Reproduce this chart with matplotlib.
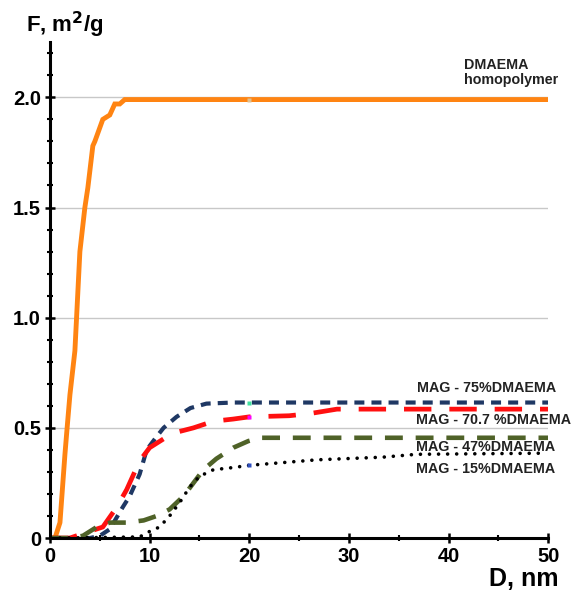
import numpy as np
import matplotlib
matplotlib.use("Agg")
from matplotlib import pyplot as plt
from matplotlib.ticker import MultipleLocator

plt.rcParams['font.family'] = ['Liberation Sans', 'DejaVu Sans']

# curves: D, nm -> F, m2/g
homo_d = [0, 0.5, 1, 1.5, 1.7, 2, 2.2, 2.5, 3, 3.5, 3.8, 4.3, 4.5, 5.3, 6, 6.5, 7, 7.5, 8, 20, 50]
homo_f = [0, 0, 0.07, 0.38, 0.49, 0.65, 0.73, 0.85, 1.3, 1.5, 1.59, 1.78, 1.8, 1.9, 1.92, 1.97, 1.97, 1.99, 1.99, 1.99, 1.99]

mag75_d = [0, 4, 5, 6, 7.3, 8, 9, 9.7, 10.7, 11.4, 12.7, 14.1, 15.7, 18.4, 20, 50]
mag75_f = [0, 0, 0.01, 0.04, 0.14, 0.19, 0.29, 0.40, 0.46, 0.50, 0.55, 0.59, 0.61, 0.615, 0.615, 0.615]

mag707_d = [0, 2, 3.3, 5.3, 6.7, 7.7, 8.4, 9, 10, 11.4, 12.7, 14.4, 16.4, 18.4, 20, 24, 26.1, 28.8, 50]
mag707_f = [0, 0, 0.02, 0.05, 0.14, 0.22, 0.29, 0.35, 0.41, 0.45, 0.48, 0.50, 0.53, 0.54, 0.55, 0.555, 0.565, 0.585, 0.585]

mag47_d = [0, 2, 3.3, 4.7, 6, 7.7, 9.4, 10.7, 12, 13.4, 14.4, 15.4, 16.7, 18.4, 19.9, 21.1, 50]
mag47_f = [0, 0, 0.01, 0.05, 0.07, 0.07, 0.08, 0.10, 0.13, 0.19, 0.25, 0.31, 0.36, 0.41, 0.44, 0.455, 0.455]

mag15_d = [1, 9, 10, 11, 12, 13, 14, 15, 16.4, 18.4, 20, 26.8, 33.4, 36.8, 49.5]
mag15_f = [0, 0.005, 0.03, 0.05, 0.10, 0.16, 0.23, 0.28, 0.31, 0.32, 0.33, 0.355, 0.367, 0.38, 0.385]

fig = plt.figure(figsize=(5.72, 5.93), dpi=100)
ax = fig.add_axes([0.0874, 0.0927, 0.871, 0.836])

ax.plot(homo_d, homo_f, color='#ff8412', lw=3.5, solid_joinstyle='miter')
ax.plot(mag75_d, mag75_f, color='#1f3864', lw=3.0, dashes=(2.4, 1.7))
ax.plot(mag707_d, mag707_f, color='#ff1010', lw=3.4, dashes=(5.8, 3.8))
ax.plot(mag47_d, mag47_f, color='#4f6228', lw=3.3, dashes=(3.9, 2.8))
ax.plot(mag15_d, mag15_f, color='black', lw=2.6, dashes=(0.01, 2.5), dash_capstyle='round')

# small stray markers at D = 20 nm
ax.plot([20], [1.99], 's', ms=2.5, color='#e0c090', mec='none')
ax.plot([20], [0.615], 's', ms=2.5, color='#40e0a0', mec='none')
ax.plot([20], [0.55], 's', ms=2.5, color='#ff00ff', mec='none')
ax.plot([20], [0.33], 's', ms=2.5, color='#3050c0', mec='none')

ax.set_xlim(0, 50)
ax.set_ylim(0, 2.25)
ax.set_xticks([0, 10, 20, 30, 40, 50])
ax.set_yticks([0, 0.5, 1.0, 1.5, 2.0])
ax.set_yticklabels(['0', '0.5', '1.0', '1.5', '2.0'])
ax.xaxis.set_minor_locator(MultipleLocator(5))
ax.yaxis.set_minor_locator(MultipleLocator(0.1))
ax.tick_params(which='major', direction='inout', length=7, width=1.8, labelsize=14.5, pad=3)
ax.tick_params(which='minor', direction='inout', length=4, width=1.5)
for lab in ax.get_xticklabels() + ax.get_yticklabels():
    lab.set_fontweight('bold')

ax.grid(axis='y', color='#c8c8c8', lw=1)
ax.set_axisbelow(True)
for s in ['top', 'right']:
    ax.spines[s].set_visible(False)
for s in ['left', 'bottom']:
    ax.spines[s].set_linewidth(2.2)

fig.text(0.045, 0.958, 'F, m$^{\\mathbf{2}}$/g', fontsize=16, fontweight='bold', va='center')
fig.text(0.976, 0.024, 'D, nm', fontsize=18, fontweight='bold', ha='right', va='center')

lab_kw = dict(fontsize=10.3, fontweight='bold', color='#222222')
ax.text(41.5, 2.18, 'DMAEMA\nhomopolymer', va='top', linespacing=1.15, **lab_kw)
ax.text(36.85, 0.680, 'MAG - 75%DMAEMA', va='center', **lab_kw)
ax.text(36.75, 0.535, 'MAG - 70.7 %DMAEMA', va='center', **lab_kw)
ax.text(36.75, 0.413, 'MAG - 47%DMAEMA', va='center', **lab_kw)
ax.text(36.7, 0.313, 'MAG - 15%DMAEMA', va='center', **lab_kw)

fig.savefig('out.png', dpi=100)
